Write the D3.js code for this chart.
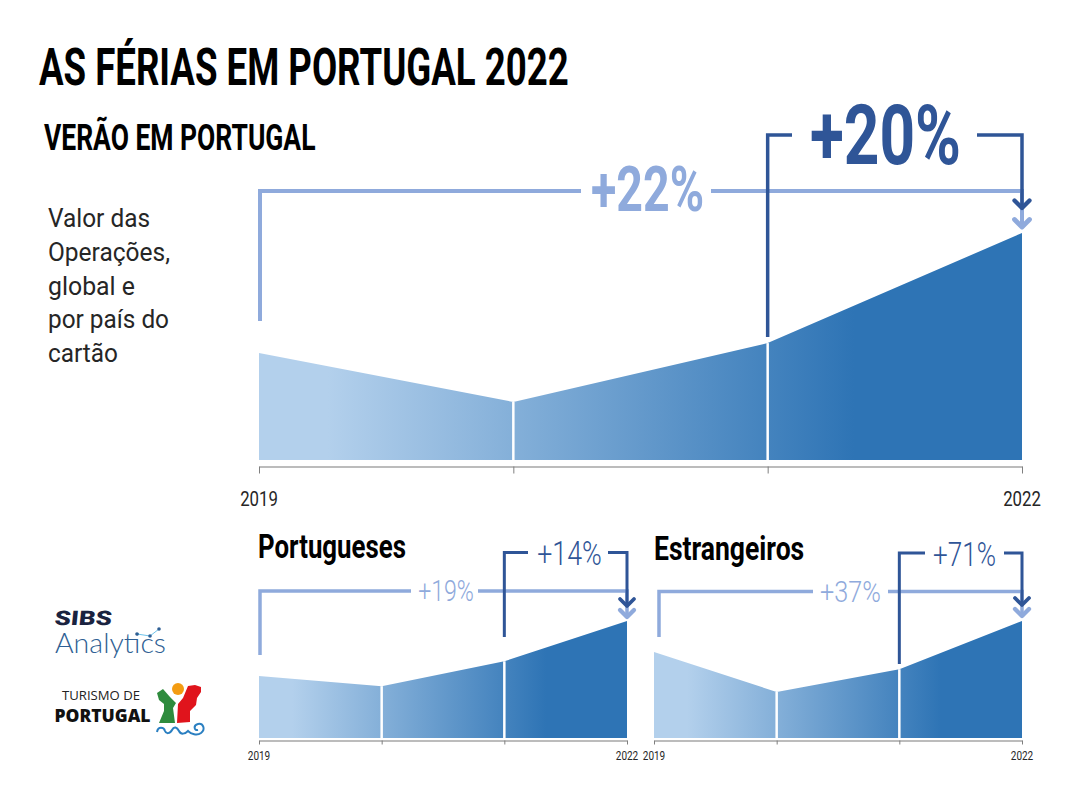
<!DOCTYPE html>
<html>
<head>
<meta charset="utf-8">
<script src="https://cdn.jsdelivr.net/npm/d3@7"></script>
<style>
html, body { margin: 0; padding: 0; background: #fff; }
svg { display: block; }
text { font-family: "Roboto", sans-serif; }
</style>
</head>
<body>
<svg id="chart"></svg>
<script>
// values, index 2019 = 100
var years = ["2019", "2020", "2021", "2022"];
var geral = [100, 91, 101.8, 122];
var portugueses = [100, 96.5, 105.1, 119];
var estrangeiros = [100, 52.3, 79.5, 137];
var tickLabels = ["2019", "2022"];
var descLines = ["Valor das", "Operações,", "global e", "por país do", "cartão"];

var svgWidth = 1080;
var svgHeight = 810;
var dark = "#2f5597";
var light = "#8faadc";

var svg = d3.select("#chart")
  .attr("width", svgWidth)
  .attr("height", svgHeight);

var defs = svg.append("defs");

// condensed text: squeeze a bold face horizontally
function label(x, y, str, size, sx, weight, color, anchor) {
  return svg.append("text")
    .attr("transform", "translate(" + x + "," + y + ") scale(" + sx + ",1)")
    .attr("font-size", size)
    .attr("font-weight", weight)
    .attr("fill", color)
    .attr("text-anchor", anchor || "start")
    .text(str);
}

var gradCount = 0;
function drawPanel(values, o) {
  var x = d3.scalePoint().domain(years).range([o.x0, o.x1]);
  var y = d3.scaleLinear().domain(o.yDomain).range([o.base, o.top]);
  var id = "fade" + (gradCount++);

  var grad = defs.append("linearGradient")
    .attr("id", id)
    .attr("gradientUnits", "userSpaceOnUse")
    .attr("x1", o.x0).attr("x2", o.x1).attr("y1", 0).attr("y2", 0);
  grad.append("stop").attr("offset", 0.09).attr("stop-color", "#b3d0ec");
  grad.append("stop").attr("offset", 0.78).attr("stop-color", "#2e74b5");

  var area = d3.area()
    .x(function(d, i) { return x(years[i]); })
    .y0(o.base)
    .y1(function(d) { return y(d); });

  svg.append("path")
    .attr("d", area(values))
    .attr("fill", "url(#" + id + ")");

  // white dividers at the two middle years
  svg.selectAll(null)
    .data(years.slice(1, 3))
    .enter()
    .append("line")
    .attr("x1", function(d) { return x(d); })
    .attr("x2", function(d) { return x(d); })
    .attr("y1", o.base)
    .attr("y2", function(d) { return y(values[years.indexOf(d)]); })
    .attr("stroke", "#fff")
    .attr("stroke-width", 2.5);

  var axis = d3.axisBottom(x)
    .tickSize(o.tick)
    .tickSizeOuter(0)
    .tickFormat(function() { return ""; });
  var g = svg.append("g")
    .attr("transform", "translate(0," + o.axisY + ")")
    .call(axis);
  g.select(".domain").attr("stroke", "#a6a6a6").attr("stroke-width", o.axisW);
  g.selectAll(".tick line").attr("stroke", "#7f7f7f").attr("stroke-width", 1);

  tickLabels.forEach(function(t) {
    label(x(t), o.axisY + o.labelDy, t, o.labelSize, 0.8, 400, "#262626", "middle");
  });

  // brackets
  bracket(o.outerX, o.outerStart, o.outerY, x("2022"), o.outerEnd, light, o.gapOuter, o.wOuter, o.head);
  bracket(x("2021"), o.innerStart, o.innerY, x("2022"), o.innerEnd, dark, o.gapInner, o.wInner, o.head);
}

function bracket(x0, yStart, yTop, x1, yEnd, color, gap, w, head) {
  var line = d3.line();
  var paths = [
    [[x0, yStart], [x0, yTop], [gap[0], yTop]],
    [[gap[1], yTop], [x1, yTop], [x1, yEnd]],
    [[x1 - head, yEnd - head], [x1, yEnd], [x1 + head, yEnd - head]]
  ];
  paths.forEach(function(p, i) {
    svg.append("path")
      .attr("d", line(p))
      .attr("fill", "none")
      .attr("stroke", color)
      .attr("stroke-width", i == 2 ? w + 0.8 : w)
      .attr("stroke-linecap", i == 2 ? "round" : "butt")
      .attr("stroke-linejoin", i == 2 ? "round" : "miter");
  });
}

// the light brackets go under the dark ones because panels draw light first
drawPanel(geral, {
  x0: 259, x1: 1022, base: 460, top: 233, yDomain: [80.35, 122],
  axisY: 466.5, tick: 7, axisW: 1.5, labelDy: 39, labelSize: 21,
  outerX: 260, outerStart: 321, outerY: 191, outerEnd: 227, gapOuter: [581, 711],
  innerStart: 337, innerY: 135, innerEnd: 208, gapInner: [792, 977],
  wOuter: 4, wInner: 3.5, head: 7.5
});
drawPanel(portugueses, {
  x0: 259, x1: 627, base: 738, top: 621, yDomain: [78.6, 119],
  axisY: 740.5, tick: 4, axisW: 1.5, labelDy: 19, labelSize: 12.5,
  outerX: 260, outerStart: 655, outerY: 591, outerEnd: 617, gapOuter: [411, 478],
  innerStart: 637, innerY: 552.5, innerEnd: 606, gapInner: [528, 608],
  wOuter: 3.5, wInner: 3, head: 7
});
drawPanel(estrangeiros, {
  x0: 654, x1: 1022, base: 738, top: 621, yDomain: [-2.6, 137],
  axisY: 740.5, tick: 4, axisW: 1.5, labelDy: 19, labelSize: 12.5,
  outerX: 659, outerStart: 637, outerY: 591.5, outerEnd: 616, gapOuter: [813, 888],
  innerStart: 664, innerY: 553, innerEnd: 605, gapInner: [925, 1004],
  wOuter: 3.5, wInner: 3, head: 7
});

// titles and callouts
label(39, 85, "AS FÉRIAS EM PORTUGAL 2022", 52, 0.704, 700, "#000");
label(44, 150, "VERÃO EM PORTUGAL", 36, 0.735, 700, "#000");
label(258, 558, "Portugueses", 34, 0.76, 700, "#000");
label(654, 560, "Estrangeiros", 34, 0.78, 700, "#000");
label(647.5, 211, "+22%", 62, 0.75, 700, light, "middle");
label(885.5, 164, "+20%", 84, 0.74, 700, dark, "middle");
label(446, 601, "+19%", 30, 0.77, 300, light, "middle");
label(569.5, 565, "+14%", 33, 0.81, 300, dark, "middle");
label(850.5, 602, "+37%", 30, 0.84, 300, light, "middle");
label(964.5, 566, "+71%", 33, 0.79, 300, dark, "middle");

var descWidths = [102, 122, 87, 121, 70];
svg.selectAll(null)
  .data(descLines)
  .enter()
  .append("text")
  .attr("x", 48)
  .attr("y", function(d, i) { return 227 + i * 33.8; })
  .attr("font-size", 26)
  .attr("fill", "#262626")
  .attr("textLength", function(d, i) { return descWidths[i]; })
  .attr("lengthAdjust", "spacingAndGlyphs")
  .text(function(d) { return d; });

// SIBS Analytics logo
svg.append("text")
  .attr("transform", "translate(54,625) skewX(-6) scale(1.3,1)")
  .attr("font-size", 20)
  .attr("font-weight", 900)
  .attr("fill", "#1a2340")
  .text("SIBS");
svg.append("text")
  .attr("x", 55).attr("y", 653)
  .attr("font-size", 28)
  .attr("fill", "#2f5f94")
  .attr("font-weight", 300)
  .attr("textLength", 111)
  .attr("lengthAdjust", "spacingAndGlyphs")
  .style("font-family", "Lato")
  .text("Analytics");
var dots = [[137, 634], [150, 636], [159, 629]];
svg.append("path").attr("d", d3.line()(dots)).attr("fill", "none").attr("stroke", "#6fc3ea").attr("stroke-width", 1);
svg.selectAll(null).data(dots).enter().append("circle")
  .attr("cx", function(d) { return d[0]; })
  .attr("cy", function(d) { return d[1]; })
  .attr("r", 1.8)
  .attr("fill", "#2f5f94");

// Turismo de Portugal logo
svg.append("text").attr("x", 62).attr("y", 700).attr("font-size", 13.5).attr("fill", "#222")
  .attr("textLength", 78).attr("lengthAdjust", "spacingAndGlyphs").style("font-family", "Open Sans").text("TURISMO DE");
svg.append("text").attr("x", 54.5).attr("y", 722).attr("font-size", 18).attr("font-weight", 800).attr("fill", "#111")
  .attr("textLength", 96).attr("lengthAdjust", "spacingAndGlyphs").style("font-family", "Open Sans").text("PORTUGAL");

svg.append("path")
  .attr("d", "M157,693L163,689L170,697L176,703L173,708L175,723L159,723L164,711L164,704L159,700Z")
  .attr("fill", "#2e8b3d");
svg.append("path")
  .attr("d", "M201,687L195,685L188,686L183,698L178,704L177,723L190,722L190,711L196,705L197,698L201,692Z")
  .attr("fill", "#e0141c");
svg.append("circle").attr("cx", 178).attr("cy", 689).attr("r", 6).attr("fill", "#f39c12");
svg.append("path")
  .attr("d", "M157,732C158,726 164,727 165,731C166,734 170,734 172,730C174,726 177,727 179,731C181,735 185,734 188,731C191,734 197,736 201,733C206,729 203,723 198,724C193,725 194,731 198,730")
  .attr("fill", "none")
  .attr("stroke", "#2a7fc1")
  .attr("stroke-width", 2);
</script>
</body>
</html>
